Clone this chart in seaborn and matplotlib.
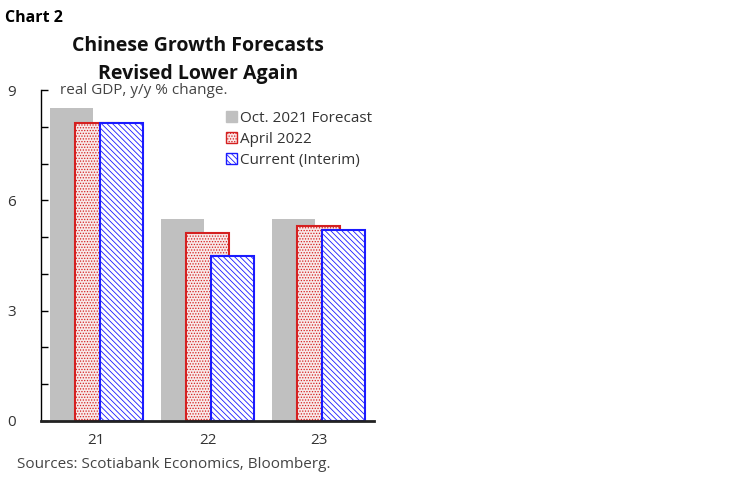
import numpy as np
import pandas as pd
import matplotlib
matplotlib.use("Agg")
import matplotlib.pyplot as plt
import seaborn as sns
from matplotlib.patches import Patch
from matplotlib.ticker import MultipleLocator

# data
years = ["21", "22", "23"]
oct_2021 = [8.5, 5.5, 5.5]
april_2022 = [8.1, 5.1, 5.3]
current = [8.1, 4.5, 5.2]
series_names = ["Oct. 2021 Forecast", "April 2022", "Current (Interim)"]

sns.set_style("white")
plt.rcParams["font.family"] = ["Open Sans", "DejaVu Sans"]
plt.rcParams["hatch.linewidth"] = 0.6

fig = plt.figure(figsize=(7.5, 4.82), dpi=100)
ax = fig.add_axes([41 / 750, 1 - 421 / 482, 333 / 750, 331 / 482])

pos = np.arange(len(years))
offsets = [-0.225, 0.0, 0.225]
styles = [
    dict(color="#c0c0c0", edgecolor="none", linewidth=0),
    dict(color="#fbe6e6", edgecolor="#d42020", linewidth=1.5, hatch="......"),
    dict(color="white", edgecolor="#1a1aff", linewidth=1.5, hatch="\\\\\\\\\\\\"),
]

for vals, off, st in zip([oct_2021, april_2022, current], offsets, styles):
    df = pd.DataFrame({"x": pos + off, "y": vals})
    sns.barplot(data=df, x="x", y="y", native_scale=True, width=0.38,
                errorbar=None, ax=ax, **st)

ax.set_xlim(-0.5, 2.5)
ax.set_ylim(0, 9)
ax.set_xticks(pos)
ax.set_xticklabels(years)
ax.yaxis.set_major_locator(MultipleLocator(3))
ax.yaxis.set_minor_locator(MultipleLocator(1))
ax.tick_params(axis="y", which="both", direction="in", length=5, width=1,
               left=True, labelsize=11, pad=18, colors="black", labelcolor="#333333")
ax.tick_params(axis="x", length=0, labelsize=11, pad=9, labelcolor="#333333")
ax.set_xlabel("")
ax.set_ylabel("")

for s in ["top", "right"]:
    ax.spines[s].set_visible(False)
ax.spines["left"].set_color("black")
ax.spines["left"].set_linewidth(1)
ax.spines["bottom"].set_color("#222222")
ax.spines["bottom"].set_linewidth(2)

handles = [Patch(facecolor=st["color"], edgecolor=st["edgecolor"] if st["edgecolor"] != "none" else st["color"],
                 hatch=st.get("hatch"), linewidth=1) for st in styles]
leg = ax.legend(handles, series_names, loc="upper left", bbox_to_anchor=(0.537, 0.955),
                frameon=False, fontsize=11, handlelength=0.7, handleheight=0.7,
                handletextpad=0.25, labelspacing=0.38, borderaxespad=0)
for t in leg.get_texts():
    t.set_color("#333333")

fig.text(5 / 750, 1 - 18 / 482, "Chart 2", fontsize=11.5, fontweight="bold",
         color="black", va="center")
fig.text(198 / 750, 1 - 60 / 482, "Chinese Growth Forecasts\nRevised Lower Again",
         fontsize=14, fontweight="bold", color="#111111", ha="center", va="center",
         linespacing=1.5)
fig.text(60 / 750, 1 - 90 / 482, "real GDP, y/y % change.", fontsize=11,
         color="#444444", va="center")
fig.text(17 / 750, 1 - 465 / 482, "Sources: Scotiabank Economics, Bloomberg.",
         fontsize=11, color="#444444", va="center")

fig.savefig("out.png", dpi=100, facecolor="white")
